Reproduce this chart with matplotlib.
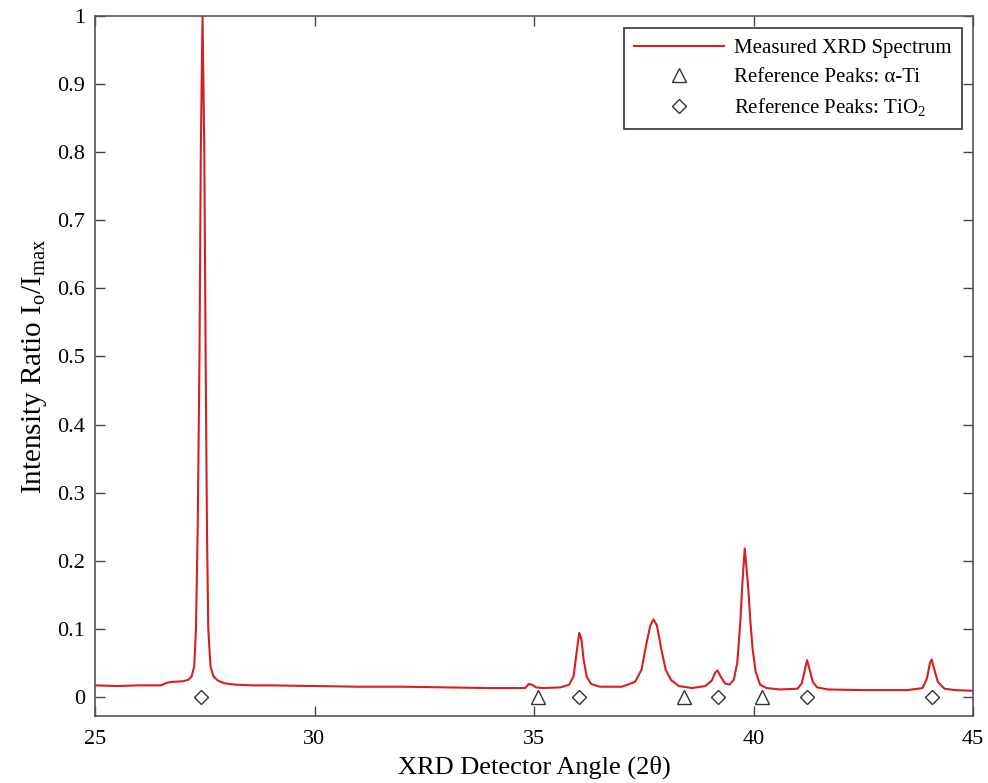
import matplotlib
matplotlib.use('Agg')
import matplotlib.pyplot as plt
import numpy as np

plt.rcParams['font.family'] = ['Liberation Serif', 'DejaVu Serif']
plt.rcParams['mathtext.fontset'] = 'custom'
plt.rcParams['mathtext.rm'] = 'Liberation Serif'
plt.rcParams['mathtext.it'] = 'Liberation Serif:italic'

# measured spectrum (2theta, I/Imax)
angle = [25.0, 25.5, 26.0, 26.5, 26.65, 26.75, 27.0, 27.12, 27.2, 27.26, 27.30,
         27.34, 27.38, 27.41, 27.45, 27.49, 27.52, 27.55, 27.58, 27.63, 27.70,
         27.8, 27.95, 28.2, 28.6, 29.0, 30.0,
         31.0, 32.0, 33.0, 34.0, 34.8, 34.88, 34.95, 35.05, 35.2, 35.6, 35.8,
         35.9, 35.97, 36.03, 36.08, 36.13, 36.2, 36.3, 36.5, 37.0, 37.3,
         37.45, 37.55, 37.65, 37.72, 37.8, 37.9, 38.0, 38.12, 38.3, 38.6,
         38.9, 39.05, 39.13, 39.18, 39.25, 39.35, 39.45, 39.55, 39.63, 39.7,
         39.75, 39.8, 39.84, 39.88, 39.93, 39.98, 40.05, 40.15, 40.3, 40.6,
         41.0, 41.1, 41.17, 41.22, 41.28, 41.35, 41.45, 41.7, 42.5, 43.5,
         43.85, 43.95, 44.02, 44.06, 44.12, 44.2, 44.35, 44.6, 45.0]
intensity = [0.017, 0.016, 0.017, 0.017, 0.021, 0.022, 0.023, 0.025, 0.030, 0.045, 0.10,
             0.25, 0.50, 0.80, 1.0, 0.80, 0.50, 0.25, 0.10, 0.045, 0.030,
             0.024, 0.020, 0.018, 0.017, 0.017, 0.016,
             0.015, 0.015, 0.014, 0.013, 0.013, 0.019, 0.018, 0.014, 0.013, 0.014, 0.018,
             0.03, 0.065, 0.094, 0.085, 0.055, 0.03, 0.019, 0.015, 0.015, 0.022,
             0.04, 0.075, 0.105, 0.114, 0.105, 0.07, 0.04, 0.025, 0.016, 0.013,
             0.016, 0.024, 0.036, 0.039, 0.03, 0.02, 0.018, 0.025, 0.05, 0.11,
             0.17, 0.218, 0.19, 0.16, 0.11, 0.07, 0.037, 0.018, 0.013, 0.011,
             0.012, 0.02, 0.04, 0.054, 0.04, 0.022, 0.014, 0.011, 0.010, 0.010,
             0.013, 0.027, 0.05, 0.055, 0.04, 0.022, 0.012, 0.010, 0.009]

# reference peak positions
ti_peaks = [35.09, 38.42, 40.19]
tio2_peaks = [27.41, 36.03, 39.19, 41.22, 44.07]

fig = plt.figure(figsize=(9.88, 7.83), dpi=100)
ax = fig.add_axes([95 / 988, 1 - 716 / 783, (973 - 95) / 988, (716 - 16) / 783])

ax.plot(angle, intensity, color='#d81e1e', lw=1.5, label='Measured XRD Spectrum')
ax.plot(ti_peaks, np.zeros(len(ti_peaks)), ls='none', marker='^', ms=10,
        mfc='none', mec='#333333', mew=1.0, label='Reference Peaks: α-Ti')
ax.plot(tio2_peaks, np.zeros(len(tio2_peaks)), ls='none', marker='D', ms=7.5,
        mfc='none', mec='#333333', mew=1.0, label=r'Reference Peaks: TiO$_2$')

ax.set_xlim(25, 45)
ax.set_ylim(-0.028, 1.0)
ax.set_xticks([25, 30, 35, 40, 45])
yt = [0, 0.1, 0.2, 0.3, 0.4, 0.5, 0.6, 0.7, 0.8, 0.9, 1]
ax.set_yticks(yt)
ax.set_yticklabels(['0', '0.1', '0.2', '0.3', '0.4', '0.5', '0.6', '0.7', '0.8', '0.9', '1'])
ax.tick_params(direction='in', length=7, width=1, labelsize=16, color='#444444',
               top=True, right=True)
ax.tick_params(axis='x', pad=10)
ax.tick_params(axis='y', pad=7)
for sp in ax.spines.values():
    sp.set_color('#555555')
    sp.set_linewidth(1.2)

ax.set_xlabel('XRD Detector Angle (2θ)', fontsize=19, labelpad=5)
ax.set_ylabel(r'Intensity Ratio I$_\mathrm{o}$/I$_\mathrm{max}$', fontsize=21, labelpad=6)

leg = ax.legend(loc='upper right', bbox_to_anchor=(1 - 11 / 878, 1 - 12 / 700), borderaxespad=0,
                fontsize=15, fancybox=False, edgecolor='#333333', framealpha=1,
                handlelength=4.3, borderpad=0.5, labelspacing=0.45, handletextpad=0.5)
leg.get_frame().set_linewidth(1.2)

fig.savefig('out.png', dpi=100)
